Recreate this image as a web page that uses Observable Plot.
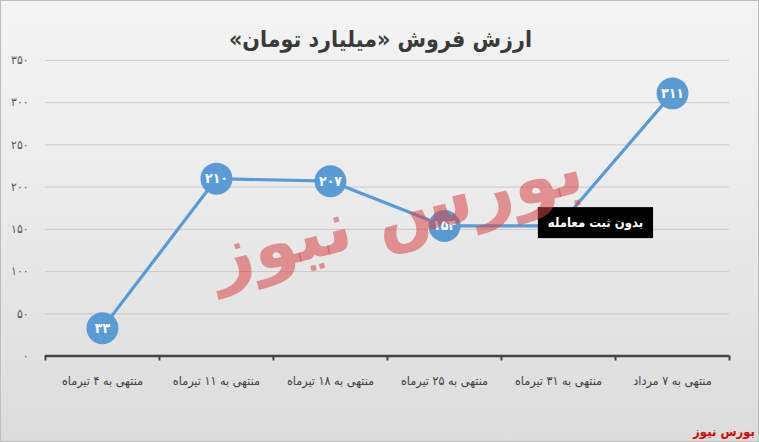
<!DOCTYPE html>
<html>
<head>
<meta charset="utf-8">
<script src="https://cdn.jsdelivr.net/npm/d3@7"></script>
<script src="https://cdn.jsdelivr.net/npm/@observablehq/plot@0.6"></script>
<style>
  html, body { margin: 0; padding: 0; }
  #wrap {
    position: relative; width: 757px; height: 440px; overflow: hidden;
    border: 1px solid #bdbdbd;
    background: linear-gradient(to bottom, #f4f4f4 0%, #ececec 40%, #dcdcdc 100%);
    font-family: "DejaVu Sans Condensed", "DejaVu Sans", sans-serif;
  }
  #title {
    position: absolute; top: 25px; left: 0; width: 759px; text-align: center;
    font-size: 23px; font-weight: bold; color: #3a3a3a; direction: rtl;
  }
  #chart { position: absolute; left: -1px; top: -1px; }
  #wm {
    position: absolute; left: 195px; top: 175px; width: 400px; text-align: center;
    font-family: "DejaVu Sans", sans-serif; font-weight: bold; font-size: 72px;
    color: rgba(215, 70, 70, 0.55); direction: rtl; line-height: 1;
    transform: rotate(-14deg); pointer-events: none; white-space: nowrap;
  }
  #credit {
    position: absolute; right: 3px; bottom: 2px; font-size: 13px; font-weight: bold;
    color: #e00000; direction: rtl; font-family: "DejaVu Sans Condensed", "DejaVu Sans", sans-serif;
  }
</style>
</head>
<body>
<div id="wrap">
  <div id="chart"></div>
  <div id="title"></div>
  <div id="wm"></div>
  <div id="credit"></div>
</div>
<script>
const titleText = "ارزش فروش «میلیارد تومان»";
const creditText = "بورس نیوز";
const categories = ["منتهی به ۴ تیرماه", "منتهی به ۱۱ تیرماه", "منتهی به ۱۸ تیرماه", "منتهی به ۲۵ تیرماه", "منتهی به ۳۱ تیرماه", "منتهی به ۷ مرداد"];
const values = [33, 210, 207, 154, 154, 311];
const notes = [null, null, null, null, "بدون ثبت معامله", null];
const yTicks = [0, 50, 100, 150, 200, 250, 300, 350];

const faDigits = "۰۱۲۳۴۵۶۷۸۹";
const fa = n => String(n).replace(/[0-9]/g, d => faDigits[+d]);

document.getElementById("title").textContent = titleText;
document.getElementById("credit").textContent = creditText;
document.getElementById("wm").textContent = creditText;

const data = categories.map((c, i) => ({i, cat: c, v: values[i], note: notes[i]}));
const plain = data.filter(d => !d.note);
const noted = data.filter(d => d.note);
const boundaries = d3.range(categories.length + 1).map(k => k - 0.5);

const font = "DejaVu Sans Condensed, DejaVu Sans, sans-serif";
const chart = Plot.plot({
  width: 759, height: 442,
  marginTop: 60, marginBottom: 86, marginLeft: 45, marginRight: 29,
  style: {background: "transparent", fontFamily: font, overflow: "visible"},
  x: {type: "linear", domain: [-0.5, categories.length - 0.5]},
  y: {domain: [0, 350]},
  marks: [
    Plot.gridY(yTicks.filter(t => t > 0), {stroke: "#c9c9c9", strokeOpacity: 1, strokeWidth: 1}),
    Plot.axisY(yTicks, {tickSize: 0, tickPadding: 17, tickFormat: fa, fontSize: 12, fill: "#555", label: null}),
    Plot.ruleY([0], {stroke: "#444", strokeWidth: 2.5}),
    Plot.ruleX(boundaries, {y1: 0, y2: 0, insetBottom: -5, stroke: "#444", strokeWidth: 2}),
    Plot.axisX(d3.range(categories.length), {tickSize: 0, tickPadding: 20, tickFormat: i => categories[i], fontSize: 12.5, fill: "#404040", label: null}),
    Plot.line(data, {x: "i", y: "v", stroke: "#5b9bd5", strokeWidth: 3.2}),
    Plot.dot(plain, {x: "i", y: "v", r: 16, fill: "#5b9bd5", stroke: "none"}),
    Plot.text(plain, {x: "i", y: "v", text: d => fa(d.v), fill: "white", fontSize: 14, fontWeight: "bold"}),
    Plot.text(noted, {x: "i", y: "v", text: "note", dx: 37, dy: -3, fill: "white", fontSize: 13, fontWeight: "bold", className: "note-label"})
  ]
});
document.getElementById("chart").appendChild(chart);

// black box behind the note labels
chart.querySelectorAll("g.note-label text").forEach(t => {
  const b = t.getBBox();
  const rect = document.createElementNS("http://www.w3.org/2000/svg", "rect");
  rect.setAttribute("x", b.x - 10);
  rect.setAttribute("y", b.y - 8);
  rect.setAttribute("width", b.width + 20);
  rect.setAttribute("height", b.height + 16);
  rect.setAttribute("fill", "black");
  const tr = t.getAttribute("transform");
  if (tr) rect.setAttribute("transform", tr);
  t.parentNode.insertBefore(rect, t);
});
</script>
</body>
</html>
